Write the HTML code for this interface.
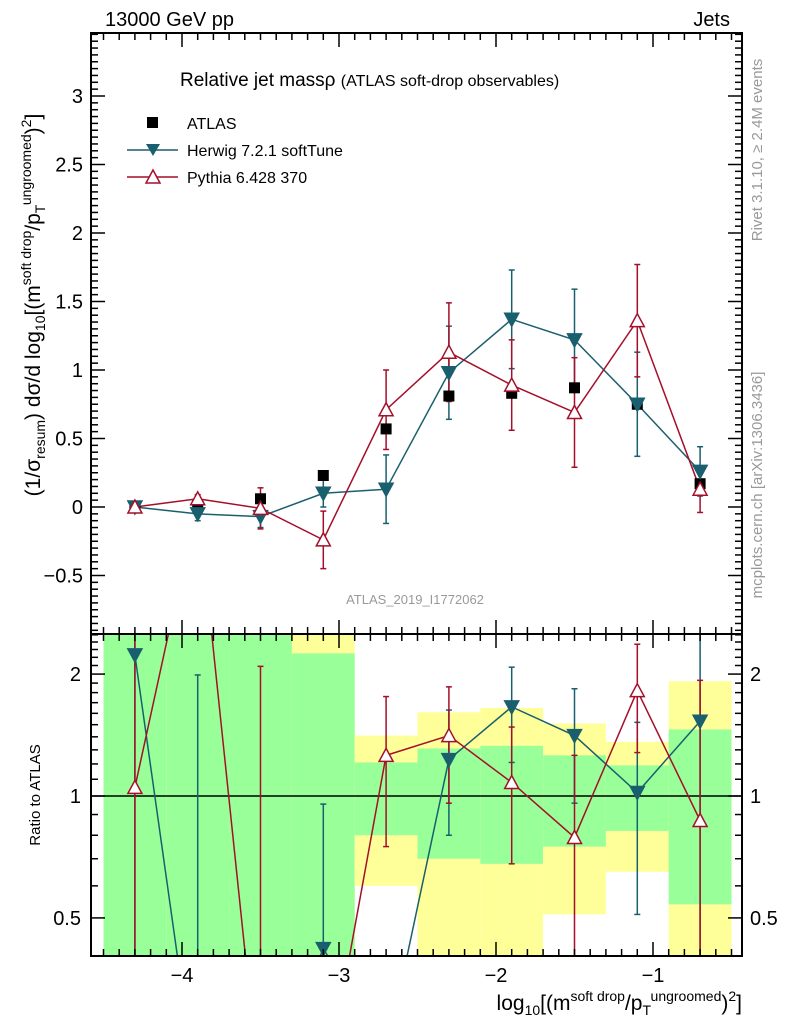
<!DOCTYPE html>
<html><head><meta charset="utf-8">
<style>
html,body{margin:0;background:#fff;overflow:hidden;width:786px;height:1024px;}
svg{display:block;font-family:"Liberation Sans",sans-serif;overflow:hidden;}
</style></head>
<body>
<svg id="chart" width="786" height="1024" xmlns="http://www.w3.org/2000/svg">
<defs>
<clipPath id="clipMain"><rect x="91" y="33" width="651" height="601"/></clipPath>
<clipPath id="clipRatio"><rect x="91" y="634" width="651" height="322"/></clipPath>
</defs>
<g id="bands" clip-path="url(#clipRatio)"></g>
<g id="ratioMarks" clip-path="url(#clipRatio)"></g>
<g id="mainMarks" clip-path="url(#clipMain)"></g>
<g id="axes"></g>
<text x="105" y="26" font-size="20">13000 GeV pp</text>
<text x="730" y="26" font-size="20" text-anchor="end">Jets</text>
<text x="180" y="86" font-size="19">Relative jet mass&#961; <tspan font-size="16">(ATLAS soft-drop observables)</tspan></text>
<text x="415" y="604" font-size="13" fill="#999" text-anchor="middle">ATLAS_2019_I1772062</text>
<g>
<rect x="147" y="117" width="11" height="11" fill="#000"/>
<text x="187" y="129" font-size="16">ATLAS</text>
<line x1="127" y1="150" x2="178" y2="150" stroke="#1a5f6e" stroke-width="1.5"/>
<path d="M146,144 L160,144 L153,156 Z" fill="#1a5f6e"/>
<text x="187" y="156" font-size="16">Herwig 7.2.1 softTune</text>
<line x1="127" y1="177" x2="178" y2="177" stroke="#a50f2a" stroke-width="1.5"/>
<path d="M146,183 L160,183 L153,170 Z" fill="#fff" stroke="#a50f2a" stroke-width="1.5"/>
<text x="187" y="183" font-size="16">Pythia 6.428 370</text>
</g>
<text transform="translate(40,305) rotate(-90)" font-size="21" text-anchor="middle">(1/&#963;<tspan font-size="14" dy="5">resum</tspan><tspan dy="-5">) d&#963;/d log</tspan><tspan font-size="14" dy="5">10</tspan><tspan dy="-5">[(m</tspan><tspan font-size="14" dy="-9">soft drop</tspan><tspan dy="9">/p</tspan><tspan font-size="14" dy="5">T</tspan><tspan font-size="14" dy="-14">ungroomed</tspan><tspan dy="9">)</tspan><tspan font-size="14" dy="-9">2</tspan><tspan dy="9">]</tspan></text>
<text transform="translate(40,795) rotate(-90)" font-size="15" text-anchor="middle">Ratio to ATLAS</text>
<text x="742" y="1010" font-size="21" text-anchor="end">log<tspan font-size="14" dy="5">10</tspan><tspan dy="-5">[(m</tspan><tspan font-size="14" dy="-9">soft drop</tspan><tspan dy="9">/p</tspan><tspan font-size="14" dy="5">T</tspan><tspan font-size="14" dy="-14">ungroomed</tspan><tspan dy="9">)</tspan><tspan font-size="14" dy="-9">2</tspan><tspan dy="9">]</tspan></text>
<text transform="translate(762,150) rotate(-90)" font-size="15" fill="#999" text-anchor="middle">Rivet 3.1.10, &#8805; 2.4M events</text>
<text transform="translate(762,485) rotate(-90)" font-size="15" fill="#999" text-anchor="middle">mcplots.cern.ch [arXiv:1306.3436]</text>
</svg>
<script>
const xCenters=[-4.3,-3.9,-3.5,-3.1,-2.7,-2.3,-1.9,-1.5,-1.1,-0.7];
const atlasVals=[0.0,0.01,0.06,0.23,0.57,0.81,0.83,0.87,0.75,0.17];
const herwigVals=[0.0,-0.05,-0.07,0.10,0.13,0.98,1.37,1.22,0.75,0.26];
const herwigErr=[0.01,0.05,0.08,0.1,0.25,0.34,0.36,0.37,0.38,0.18];
const pythiaVals=[0.0,0.06,-0.01,-0.24,0.71,1.13,0.89,0.69,1.36,0.13];
const pythiaErr=[0.02,0.03,0.15,0.21,0.29,0.36,0.33,0.40,0.41,0.17];
const herwigRatio=[2.23,0.1,0.1,0.42,0.23,1.23,1.66,1.41,1.02,1.53];
const herwigRatioLo=[0.1,0.1,0.1,0.1,0.1,0.80,1.21,0.96,0.51,0.1];
const herwigRatioHi=[5,1.99,0.1,0.955,0.1,1.63,2.08,1.84,1.52,5];
const pythiaRatio=[1.05,6,-1,-1,1.26,1.41,1.08,0.79,1.82,0.87];
const pythiaRatioLo=[0.1,6,0.1,-1,0.75,0.96,0.68,0.1,1.28,0.1];
const pythiaRatioHi=[5,6,2.09,-1,1.76,1.86,1.48,1.26,2.37,1.93];
const binEdges=[-4.5,-4.1,-3.7,-3.3,-2.9,-2.5,-2.1,-1.7,-1.3,-0.9,-0.5];
const yellowLo=[0.1,0.1,0.1,0.1,0.60,0.1,0.1,0.51,0.65,0.1];
const yellowHi=[5,5,5,5,1.41,1.61,1.65,1.51,1.36,1.92];
const greenLo=[0.1,0.1,0.1,0.1,0.80,0.70,0.68,0.75,0.82,0.54];
const greenHi=[5,5,5,2.25,1.21,1.31,1.33,1.26,1.19,1.46];
const mainTicks=[-0.5,0,0.5,1,1.5,2,2.5,3];
const mainTickLabels=["\u22120.5","0","0.5","1","1.5","2","2.5","3"];
const ratioTicks=[0.5,1,2];
const ratioTickLabels=["0.5","1","2"];
const xTicks=[-4,-3,-2,-1];
const xTickLabels=["\u22124","\u22123","\u22122","\u22121"];

const NS="http://www.w3.org/2000/svg";
const X0=91,X1=742,YT=33,YM=634,YB=956;
function sx(v){return 182+(v+4)*157;}
function sy(v){return 507-v*137;}
function ry(r){ if(r<=0) return 1100; return Math.min(1100,Math.max(500,796-Math.log10(r)*405));}
function mk(tag,attrs,parent){const e=document.createElementNS(NS,tag);for(const k in attrs)e.setAttribute(k,attrs[k]);parent.appendChild(e);return e;}
const HC="#1a5f6e",PC="#a50f2a";

const bands=document.getElementById('bands');
for(let i=0;i<yellowLo.length;i++){
  const x=sx(binEdges[i]),w=sx(binEdges[i+1])-x;
  const y=mk('rect',{x:x,y:ry(yellowHi[i]),width:w,height:ry(yellowLo[i])-ry(yellowHi[i]),fill:'#ffff99'},bands);
  
  
  const g=mk('rect',{x:x,y:ry(greenHi[i]),width:w,height:ry(greenLo[i])-ry(greenHi[i]),fill:'#99ff99'},bands);
  
  
}

function tri(x,y,down,color,fill,parent,name){
  const d=down?`M${x-7},${y-6} L${x+7},${y-6} L${x},${y+7} Z`:`M${x-7},${y+6} L${x+7},${y+6} L${x},${y-7} Z`;
  const p=mk('path',{d:d,fill:fill,stroke:color,'stroke-width':1.5},parent);
  
  
}
function errbar(x,y1,y2,color,parent,name){
  const g=mk('g',{stroke:color,'stroke-width':1.5},parent);
  
  
  mk('line',{x1:x,y1:y1,x2:x,y2:y2},g);
  mk('line',{x1:x-3,y1:y1,x2:x+3,y2:y1},g);
  mk('line',{x1:x-3,y1:y2,x2:x+3,y2:y2},g);
}
function series(parent,xs,ys,color,name){
  const pl=mk('polyline',{points:xs.map((x,i)=>sx(x)+','+ys[i]).join(' '),fill:'none',stroke:color,'stroke-width':1.5},parent);
  
  
}

const mm=document.getElementById('mainMarks');
series(mm,xCenters,herwigVals.map(sy),HC,'herwig-line');
series(mm,xCenters,pythiaVals.map(sy),PC,'pythia-line');
xCenters.forEach((x,i)=>{
  errbar(sx(x),sy(herwigVals[i]+herwigErr[i]),sy(herwigVals[i]-herwigErr[i]),HC,mm,'herwig-error-'+i);
  errbar(sx(x),sy(pythiaVals[i]+pythiaErr[i]),sy(pythiaVals[i]-pythiaErr[i]),PC,mm,'pythia-error-'+i);
});
xCenters.forEach((x,i)=>{
  const r=mk('rect',{x:sx(x)-5.5,y:sy(atlasVals[i])-5.5,width:11,height:11,fill:'#000'},mm);
  
  
  tri(sx(x),sy(herwigVals[i]),true,HC,HC,mm,'herwig-point-'+i);
  tri(sx(x),sy(pythiaVals[i]),false,PC,'#fff',mm,'pythia-point-'+i);
});

const rm=document.getElementById('ratioMarks');
const one=mk('line',{x1:X0,y1:ry(1),x2:X1,y2:ry(1),stroke:'#000','stroke-width':1.5},rm);


series(rm,xCenters,herwigRatio.map(ry),HC,'herwig-ratio-line');
series(rm,xCenters,pythiaRatio.map(ry),PC,'pythia-ratio-line');
xCenters.forEach((x,i)=>{
  errbar(sx(x),ry(herwigRatioHi[i]),ry(herwigRatioLo[i]),HC,rm,'herwig-ratio-error-'+i);
  errbar(sx(x),ry(pythiaRatioHi[i]),ry(pythiaRatioLo[i]),PC,rm,'pythia-ratio-error-'+i);
});
xCenters.forEach((x,i)=>{
  tri(sx(x),ry(herwigRatio[i]),true,HC,HC,rm,'herwig-ratio-point-'+i);
  tri(sx(x),ry(pythiaRatio[i]),false,PC,'#fff',rm,'pythia-ratio-point-'+i);
});

const ax=document.getElementById('axes');
const f1=mk('rect',{x:X0,y:YT,width:X1-X0,height:YM-YT,fill:'none',stroke:'#000','stroke-width':2},ax);


const f2=mk('rect',{x:X0,y:YM,width:X1-X0,height:YB-YM,fill:'none',stroke:'#000','stroke-width':2},ax);


for(let k=-46;k<=-4;k++){
  const v=k/10,x=sx(v);
  if(x<X0||x>X1) continue;
  const major=(k%10===0),L=major?14:7;
  [YT,YM].forEach(y=>{mk('line',{x1:x,y1:y,x2:x,y2:y+L,stroke:'#000','stroke-width':1.5},ax);});
  [YM,YB].forEach(y=>{mk('line',{x1:x,y1:y,x2:x,y2:y-L,stroke:'#000','stroke-width':1.5},ax);});
}
xTicks.forEach((v,i)=>{
  const t=mk('text',{x:sx(v),y:YB+26,'font-size':20,'text-anchor':'middle'},ax);
  t.textContent=xTickLabels[i];
  
  
});
for(let k=-18;k<=69;k++){
  const v=k/20,y=sy(v);
  if(y<YT||y>YM) continue;
  const L=(k%10===0)?14:7;
  mk('line',{x1:X0,y1:y,x2:X0+L,y2:y,stroke:'#000','stroke-width':1.5},ax);
  mk('line',{x1:X1,y1:y,x2:X1-L,y2:y,stroke:'#000','stroke-width':1.5},ax);
}
mainTicks.forEach((v,i)=>{
  const t=mk('text',{x:X0-8,y:sy(v)+7,'font-size':20,'text-anchor':'end'},ax);
  t.textContent=mainTickLabels[i];
  
  
});
const minor=[0.5,0.6,0.7,0.8,0.9,1,1.1,1.2,1.3,1.4,1.5,1.6,1.7,1.8,1.9,2,2.1,2.2,2.3,2.4,2.5];
minor.forEach(v=>{
  const y=ry(v); if(y<YM||y>YB) return;
  const L=ratioTicks.includes(v)?14:7;
  mk('line',{x1:X0,y1:y,x2:X0+L,y2:y,stroke:'#000','stroke-width':1.5},ax);
  mk('line',{x1:X1,y1:y,x2:X1-L,y2:y,stroke:'#000','stroke-width':1.5},ax);
});
ratioTicks.forEach((v,i)=>{
  const t=mk('text',{x:X0-10,y:ry(v)+7,'font-size':20,'text-anchor':'end'},ax);
  t.textContent=ratioTickLabels[i];
  
  
  const t2=mk('text',{x:X1+8,y:ry(v)+7,'font-size':20},ax);
  t2.textContent=ratioTickLabels[i];
  
  
});
</script>
</body></html>
